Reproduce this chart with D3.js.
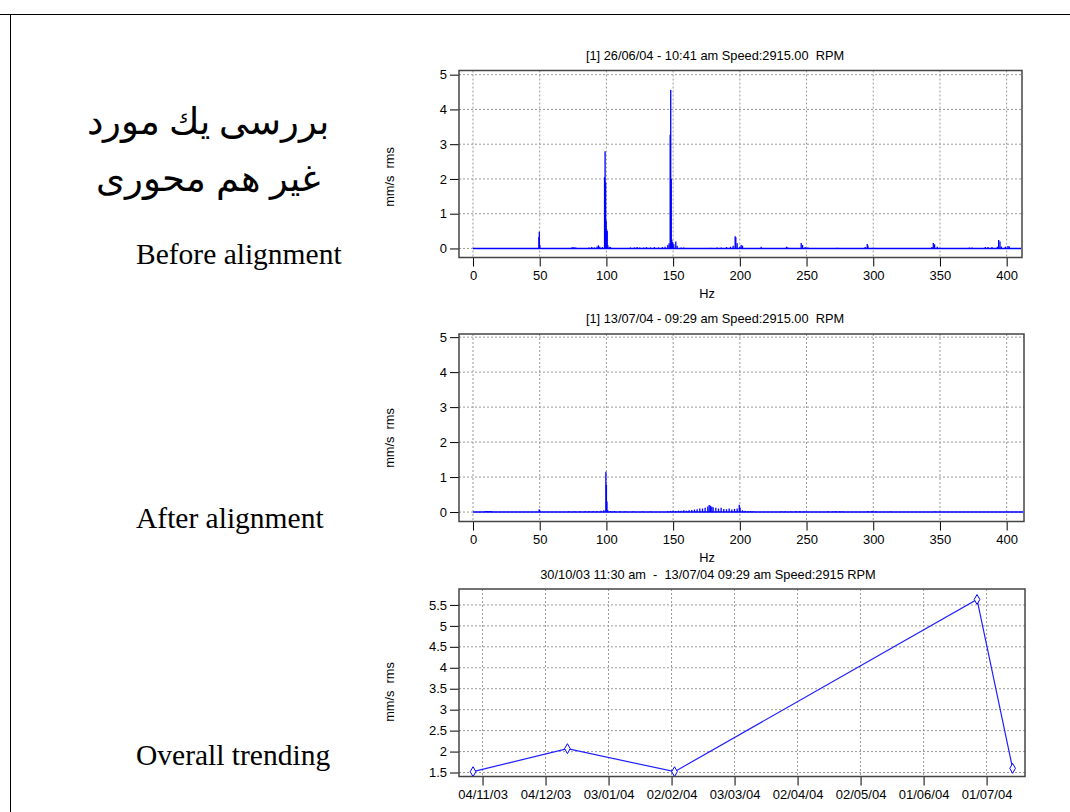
<!DOCTYPE html>
<html>
<head>
<meta charset="utf-8">
<script src="https://cdn.jsdelivr.net/npm/d3@7"></script>
<style>
  body { margin: 0; background: #fff; }
  svg { display: block; }
  svg text { white-space: pre; }
  .axis text { font-family: "Liberation Sans", Arial, sans-serif; font-size: 13px; fill: #000; }
  .lbl { font-family: "Liberation Sans", Arial, sans-serif; font-size: 12.8px; fill: #000; }
  .side { font-family: "Liberation Serif", "Times New Roman", serif; font-size: 29.5px; fill: #000; }
</style>
</head>
<body>
<svg width="1070" height="812"></svg>
<script>
// spectrum before alignment (Hz, mm/s rms)
var beforeHz  = [49.4, 49.7, 50.1, 74, 75, 76, 77, 87, 89, 91, 93, 94, 95, 97,
                 98.6, 99, 99.4, 99.8, 100.2, 100.6, 101, 102, 103,
                 118, 121, 123, 125, 128, 130, 133, 136, 139, 142, 144, 146, 147,
                 147.8, 148.2, 148.6, 149, 149.6, 150.5, 152, 153, 156, 158,
                 178, 183, 186, 190, 193, 195, 196.5, 197, 198, 200, 201, 202,
                 216, 235, 236, 246, 247, 249, 251, 273, 294, 295.5, 296,
                 344, 345, 346, 348, 372, 374, 384, 386, 389, 393, 394, 395, 396, 399, 401, 402];
var beforeAmp = [0.33, 0.48, 0.1, 0.03, 0.04, 0.03, 0.03, 0.03, 0.04, 0.03, 0.06, 0.09, 0.05, 0.04,
                 2.05, 2.8, 1.9, 0.8, 0.55, 0.5, 0.1, 0.05, 0.04,
                 0.03, 0.03, 0.04, 0.03, 0.03, 0.04, 0.03, 0.04, 0.03, 0.04, 0.05, 0.1, 0.15,
                 3.27, 4.56, 2.0, 0.25, 0.18, 0.12, 0.2, 0.08, 0.03, 0.03,
                 0.02, 0.03, 0.03, 0.04, 0.05, 0.08, 0.35, 0.32, 0.15, 0.05, 0.1, 0.08,
                 0.05, 0.05, 0.03, 0.16, 0.1, 0.04, 0.03, 0.02, 0.04, 0.13, 0.08,
                 0.04, 0.16, 0.12, 0.05, 0.03, 0.03, 0.04, 0.04, 0.04, 0.05, 0.24, 0.2, 0.06, 0.05, 0.07, 0.06];

// spectrum after alignment
var afterHz  = [9, 10, 11, 12, 13, 14, 49.6, 50, 72, 76, 80, 84, 87, 90, 93, 96, 98,
                99.6, 100, 100.4, 101, 103, 106, 110, 114, 120, 127, 133,
                146, 148, 150, 152, 154, 156, 158, 160, 162, 164, 166, 168, 170, 172, 174, 176, 177, 178, 179, 180,
                182, 184, 186, 188, 190, 192, 194, 196, 198, 199.6, 200.2, 202, 204, 206, 208, 210,
                231, 234, 238, 242, 245, 248, 266, 270, 272, 275, 277, 296, 299, 302, 313, 346];
var afterAmp = [0.02, 0.03, 0.03, 0.03, 0.03, 0.02, 0.08, 0.05, 0.02, 0.02, 0.02, 0.02, 0.03, 0.03, 0.03, 0.04, 0.05,
                1.15, 0.78, 0.3, 0.05, 0.03, 0.03, 0.02, 0.02, 0.02, 0.02, 0.02,
                0.02, 0.03, 0.04, 0.03, 0.04, 0.04, 0.05, 0.04, 0.05, 0.06, 0.07, 0.08, 0.1, 0.1, 0.12, 0.16, 0.2, 0.18, 0.15, 0.14,
                0.12, 0.1, 0.12, 0.09, 0.08, 0.1, 0.07, 0.09, 0.1, 0.21, 0.12, 0.05, 0.04, 0.03, 0.03, 0.02,
                0.02, 0.02, 0.02, 0.03, 0.03, 0.02, 0.02, 0.02, 0.03, 0.03, 0.02, 0.03, 0.03, 0.02, 0.02, 0.02];

var hzTicks = [0, 50, 100, 150, 200, 250, 300, 350, 400];
var ampTicks = [0, 1, 2, 3, 4, 5];

// overall trend
var trendDates = ["2003-10-30T11:30", "2003-12-14T10:00", "2004-02-03T10:00", "2004-06-26T10:41", "2004-07-13T09:29"];
var trendVals  = [1.52, 2.07, 1.52, 5.63, 1.6];
var trendTicks = ["2003-11-04", "2003-12-04", "2004-01-03", "2004-02-02", "2004-03-03",
                  "2004-04-02", "2004-05-02", "2004-06-01", "2004-07-01"];
var trendYTicks = [1.5, 2, 2.5, 3, 3.5, 4, 4.5, 5, 5.5];

var titles = ["[1] 26/06/04 - 10:41 am Speed:2915.00  RPM",
              "[1] 13/07/04 - 09:29 am Speed:2915.00  RPM",
              "30/10/03 11:30 am  -  13/07/04 09:29 am Speed:2915 RPM"];

var svg = d3.select("svg");

// slide border
svg.append("line").attr("x1", 0).attr("x2", 1070).attr("y1", 14.5).attr("y2", 14.5).attr("stroke", "#000");
svg.append("line").attr("x1", 10.5).attr("x2", 10.5).attr("y1", 14).attr("y2", 812).attr("stroke", "#000");

// left side text
svg.append("text").attr("class", "side").attr("x", 208).attr("y", 134)
  .attr("text-anchor", "middle").style("font-size", "37px").text("بررسی یك مورد");
svg.append("text").attr("class", "side").attr("x", 208).attr("y", 191)
  .attr("text-anchor", "middle").style("font-size", "37px").text("غیر هم محوری");
svg.append("text").attr("class", "side").attr("x", 136).attr("y", 264).text("Before alignment");
svg.append("text").attr("class", "side").attr("x", 136).attr("y", 528).text("After alignment");
svg.append("text").attr("class", "side").attr("x", 136).attr("y", 765).text("Overall trending");

function panel(box, x, y, xTicks, yTicks, xFmt, yFmt) {
  var g = svg.append("g");
  // grid
  g.selectAll(".gx").data(xTicks).enter().append("line")
    .attr("x1", function(d) { return x(d); }).attr("x2", function(d) { return x(d); })
    .attr("y1", box.top).attr("y2", box.bottom)
    .attr("stroke", "#999").attr("stroke-dasharray", "2,2");
  g.selectAll(".gy").data(yTicks).enter().append("line")
    .attr("y1", function(d) { return y(d); }).attr("y2", function(d) { return y(d); })
    .attr("x1", box.left).attr("x2", box.right)
    .attr("stroke", "#999").attr("stroke-dasharray", "2,2");

  var xa = d3.axisBottom(x).tickValues(xTicks).tickSize(9).tickPadding(4).tickFormat(xFmt);
  var ya = d3.axisLeft(y).tickValues(yTicks).tickSize(9).tickPadding(3).tickFormat(yFmt);
  var gx = g.append("g").attr("class", "axis").attr("transform", "translate(0," + box.bottom + ")").call(xa);
  var gy = g.append("g").attr("class", "axis").attr("transform", "translate(" + box.left + ",0)").call(ya);
  gx.select(".domain").remove();
  gy.select(".domain").remove();
  gx.selectAll("line").attr("stroke", "#000");
  gy.selectAll("line").attr("stroke", "#000");
  return g;
}

function frame(box) {
  svg.append("rect").attr("x", box.left).attr("y", box.top)
    .attr("width", box.right - box.left).attr("height", box.bottom - box.top)
    .attr("fill", "none").attr("stroke", "#444").attr("stroke-width", 1.5);
}

function spectrum(box, domX, domY, hz, amp, title, labelY) {
  var x = d3.scaleLinear().domain(domX).range([box.left, box.right]);
  var y = d3.scaleLinear().domain(domY).range([box.bottom, box.top]);
  var g = panel(box, x, y, hzTicks, ampTicks, d3.format("d"), d3.format("d"));

  var marks = g.append("g");
  marks.append("line")
    .attr("x1", x(0)).attr("x2", box.right - 1)
    .attr("y1", y(0)).attr("y2", y(0))
    .attr("stroke", "#0000ff").attr("stroke-width", 1.6);
  marks.selectAll(".stick").data(hz).enter().append("line")
    .attr("x1", function(d) { return x(d); }).attr("x2", function(d) { return x(d); })
    .attr("y1", y(0))
    .attr("y2", function(d, i) { return y(amp[i]); })
    .attr("stroke", "#0000ff").attr("stroke-width", 1.3);

  frame(box);

  svg.append("text").attr("class", "lbl").attr("x", 715).attr("y", box.top - 11)
    .attr("text-anchor", "middle").text(title);
  svg.append("text").attr("class", "lbl").attr("x", 707).attr("y", box.bottom + 40)
    .attr("text-anchor", "middle").text("Hz");
  svg.append("text").attr("class", "lbl")
    .attr("transform", "translate(394," + labelY + ") rotate(-90)")
    .attr("text-anchor", "middle").text("mm/s  rms");
}

spectrum({ left: 459, right: 1022, top: 70.5, bottom: 257.5 }, [-10.5, 411.5], [-0.26, 5.12],
  beforeHz, beforeAmp, titles[0], 177);
spectrum({ left: 459, right: 1024, top: 334, bottom: 521.5 }, [-10.5, 413], [-0.27, 5.09],
  afterHz, afterAmp, titles[1], 438);

// trend panel
var parseT = d3.utcParse("%Y-%m-%dT%H:%M");
var parseD = d3.utcParse("%Y-%m-%d");
var tb = { left: 459, right: 1025, top: 589, bottom: 776.5 };
var xt = d3.scaleUtc().domain([parseT("2003-10-23T19:00"), parseT("2004-07-19T07:00")]).range([tb.left, tb.right]);
var yt = d3.scaleLinear().domain([1.405, 5.88]).range([tb.bottom, tb.top]);
var tickDates = trendTicks.map(parseD);
panel(tb, xt, yt, tickDates, trendYTicks, d3.utcFormat("%d/%m/%y"), function(d) { return String(d); });

var pts = trendDates.map(function(d, i) { return { t: parseT(d), v: trendVals[i] }; });
var line = d3.line().x(function(d) { return xt(d.t); }).y(function(d) { return yt(d.v); });
svg.append("path").datum(pts).attr("d", line)
  .attr("fill", "none").attr("stroke", "#2020ff").attr("stroke-width", 1.2);
svg.selectAll(".pt").data(pts).enter().append("path")
  .attr("d", d3.symbol().type(d3.symbolDiamond).size(28))
  .attr("transform", function(d) { return "translate(" + xt(d.t) + "," + yt(d.v) + ")"; })
  .attr("fill", "#fff").attr("stroke", "#0000ff").attr("stroke-width", 1);
frame(tb);

svg.append("text").attr("class", "lbl").attr("x", 708).attr("y", 579)
  .attr("text-anchor", "middle").text(titles[2]);
svg.append("text").attr("class", "lbl")
  .attr("transform", "translate(394,692) rotate(-90)")
  .attr("text-anchor", "middle").text("mm/s  rms");
</script>
</body>
</html>
